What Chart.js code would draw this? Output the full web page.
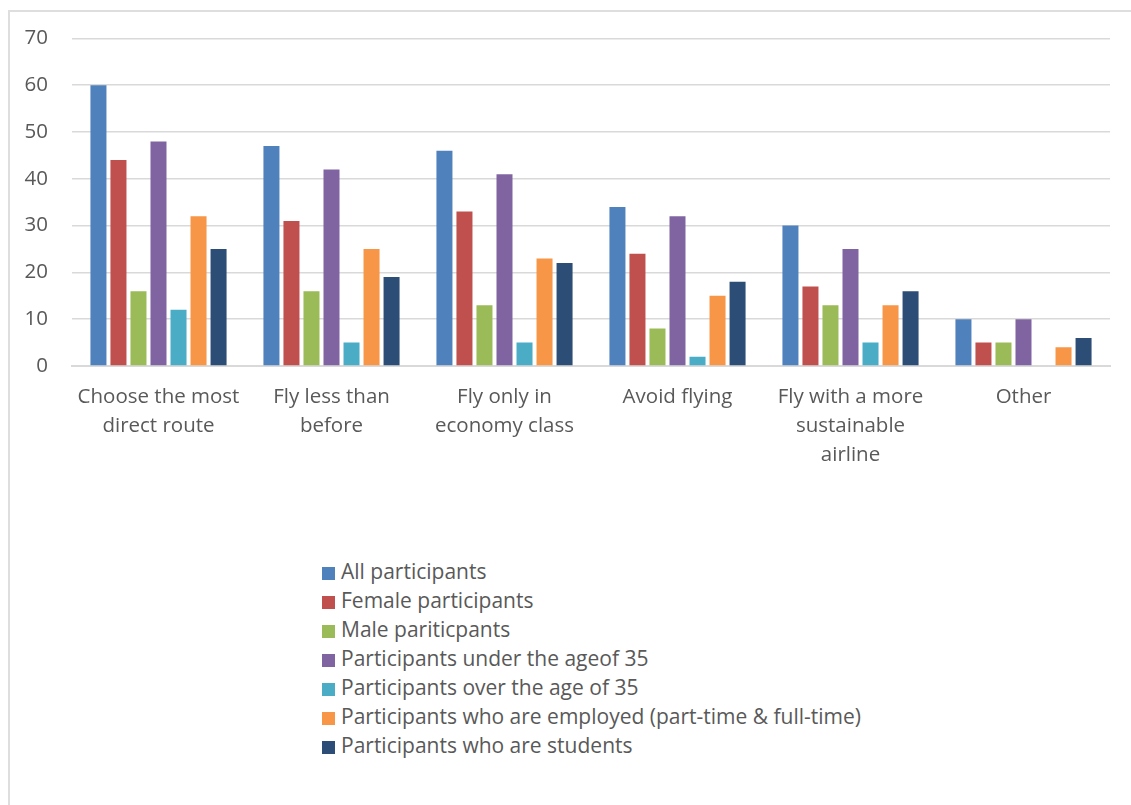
<!DOCTYPE html>
<html>
<head>
<meta charset="utf-8">
<title>Flying choices</title>
<script src="https://cdn.jsdelivr.net/npm/chart.js@4.4.0/dist/chart.umd.min.js"></script>
<style>
    body { margin: 0; background: #fff; width: 1131px; height: 805px; overflow: hidden; position: relative; }
    .frame { position: absolute; left: 8px; top: 10px; width: 1200px; height: 900px; border: 2px solid #dedede; box-sizing: border-box; }
    #chart { position: absolute; left: 0; top: 0; }
    #legend { position: absolute; left: 322px; top: 557px; font-family: "Open Sans", sans-serif; font-size: 21px; color: #595959; }
    #legend div { height: 29px; line-height: 29px; white-space: nowrap; }
    #legend span { display: inline-block; width: 13px; height: 13px; margin-right: 6px; vertical-align: -1px; }
</style>
</head>
<body>
<div class="frame"></div>
<canvas id="chart" width="1131" height="500"></canvas>
<div id="legend"></div>
<script>
    // Data
    var categories = [
        ["Choose the most", "direct route"],
        ["Fly less than", "before"],
        ["Fly only in", "economy class"],
        ["Avoid flying"],
        ["Fly with a more", "sustainable", "airline"],
        ["Other"]
    ];
    var seriesNames = [
        "All participants",
        "Female participants",
        "Male pariticpants",
        "Participants under the ageof 35",
        "Participants over the age of 35",
        "Participants who are employed (part-time & full-time)",
        "Participants who are students"
    ];
    var allParticipants = [60, 47, 46, 34, 30, 10];
    var femaleParticipants = [44, 31, 33, 24, 17, 5];
    var maleParticipants = [16, 16, 13, 8, 13, 5];
    var under35 = [48, 42, 41, 32, 25, 10];
    var over35 = [12, 5, 5, 2, 5, 0];
    var employed = [32, 25, 23, 15, 13, 4];
    var students = [25, 19, 22, 18, 16, 6];
    var yTicks = [0, 10, 20, 30, 40, 50, 60, 70];

    var seriesValues = [allParticipants, femaleParticipants, maleParticipants, under35, over35, employed, students];
    var colors = ["#4F81BD", "#C0504D", "#9BBB59", "#8064A2", "#4BACC6", "#F79646", "#2C4D75"];

    var datasets = seriesValues.map(function (values, i) {
        return {
            label: seriesNames[i],
            data: values,
            backgroundColor: colors[i],
            categoryPercentage: 0.81,
            barPercentage: 0.8
        };
    });

    var font = { family: "'Open Sans', sans-serif", size: 20.5, lineHeight: 1.41 };

    var ctx = document.getElementById("chart").getContext("2d");
    var myChart = new Chart(ctx, {
        type: "bar",
        data: { labels: categories, datasets: datasets },
        options: {
            responsive: false,
            animation: false,
            layout: { padding: { top: 37, right: 21, left: 0, bottom: 0 } },
            plugins: {
                legend: { display: false },
                tooltip: { enabled: false }
            },
            scales: {
                x: {
                    grid: { display: false, drawTicks: false },
                    border: { color: "#d9d9d9", width: 2 },
                    ticks: { color: "#595959", font: font, padding: 17, maxRotation: 0, autoSkip: false },
                    afterFit: function (scale) { scale.height = 134; }
                },
                y: {
                    min: 0,
                    max: 70,
                    afterBuildTicks: function (scale) {
                        scale.ticks = yTicks.map(function (v) { return { value: v }; });
                    },
                    grid: { color: "#d9d9d9", lineWidth: 1.5, drawTicks: false },
                    border: { display: false },
                    ticks: { color: "#595959", font: font, padding: 24 },
                    afterFit: function (scale) { scale.width = 72; }
                }
            }
        }
    });

    // Legend
    var legend = document.getElementById("legend");
    myChart.data.datasets.forEach(function (ds) {
        var row = document.createElement("div");
        var box = document.createElement("span");
        box.style.background = ds.backgroundColor;
        row.appendChild(box);
        row.appendChild(document.createTextNode(ds.label));
        legend.appendChild(row);
    });
</script>
</body>
</html>
